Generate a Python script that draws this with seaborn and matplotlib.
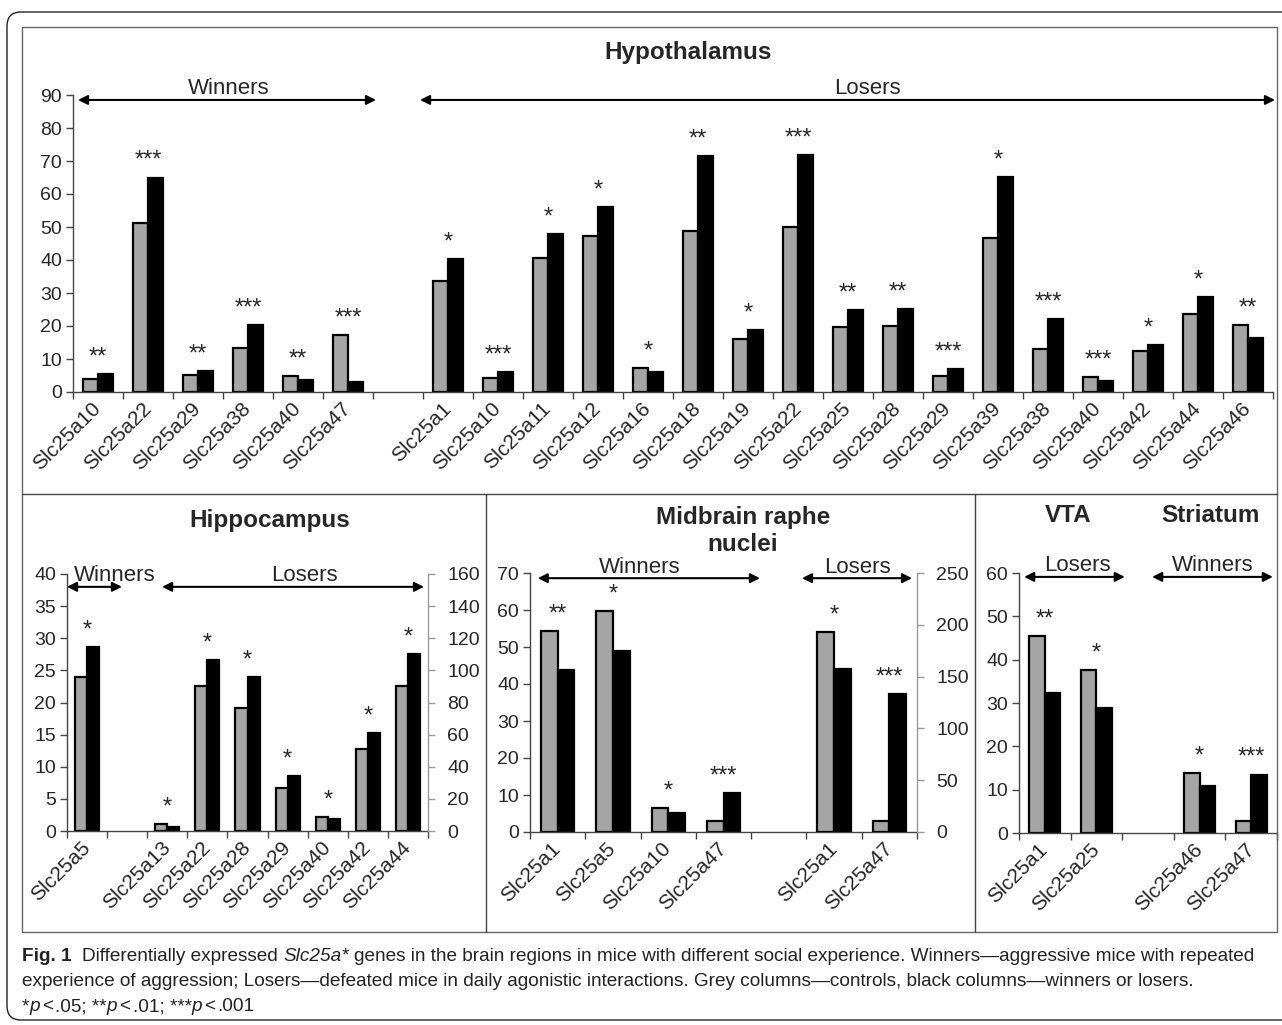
import numpy as np
import pandas as pd
import matplotlib
matplotlib.use("Agg")
import matplotlib.pyplot as plt
import seaborn as sns
from matplotlib import font_manager as fm
from matplotlib.patches import FancyBboxPatch, Rectangle
from matplotlib.lines import Line2D

# ---------------- data ----------------
# Hypothalamus
hyp_win_genes = ["Slc25a10", "Slc25a22", "Slc25a29", "Slc25a38", "Slc25a40", "Slc25a47"]
hyp_win_ctrl = [4.0, 51.3, 5.2, 13.4, 4.8, 17.3]
hyp_win_exp = [5.5, 65.0, 6.3, 20.4, 3.5, 3.0]
hyp_win_sig = ["**", "***", "**", "***", "**", "***"]

hyp_los_genes = ["Slc25a1", "Slc25a10", "Slc25a11", "Slc25a12", "Slc25a16", "Slc25a18",
                 "Slc25a19", "Slc25a22", "Slc25a25", "Slc25a28", "Slc25a29", "Slc25a39",
                 "Slc25a38", "Slc25a40", "Slc25a42", "Slc25a44", "Slc25a46"]
hyp_los_ctrl = [33.5, 4.1, 40.7, 47.2, 7.3, 48.7, 16.1, 50.0, 19.8, 20.1, 4.8, 46.7,
                13.0, 4.5, 12.3, 23.5, 20.4]
hyp_los_exp = [40.4, 6.0, 47.9, 56.0, 6.0, 71.4, 18.9, 71.7, 24.8, 25.2, 7.0, 65.1,
               22.1, 3.3, 14.3, 28.9, 16.5]
hyp_los_sig = ["*", "***", "*", "*", "*", "**", "*", "***", "**", "**", "***", "*",
               "***", "***", "*", "*", "**"]

# Hippocampus
hip_win_genes = ["Slc25a5"]
hip_win_ctrl = [23.9]
hip_win_exp = [28.7]
hip_win_sig = ["*"]
hip_los_genes = ["Slc25a13", "Slc25a22", "Slc25a28", "Slc25a29", "Slc25a40", "Slc25a42", "Slc25a44"]
hip_los_ctrl = [1.1, 22.5, 19.2, 6.7, 2.2, 12.8, 22.6]
hip_los_exp = [0.6, 26.6, 24.0, 8.5, 1.8, 15.3, 27.5]
hip_los_sig = ["*", "*", "*", "*", "*", "*", "*"]

# Midbrain raphe nuclei (losers on right axis)
mid_win_genes = ["Slc25a1", "Slc25a5", "Slc25a10", "Slc25a47"]
mid_win_ctrl = [54.2, 59.7, 6.5, 3.0]
mid_win_exp = [43.7, 48.9, 5.1, 10.5]
mid_win_sig = ["**", "*", "*", "***"]
mid_los_genes = ["Slc25a1", "Slc25a47"]
mid_los_ctrl = [192.7, 10.6]
mid_los_exp = [157.7, 133.5]
mid_los_sig = ["*", "***"]

# VTA (losers) and Striatum (winners)
vta_los_genes = ["Slc25a1", "Slc25a25"]
vta_los_ctrl = [45.4, 37.6]
vta_los_exp = [32.4, 28.8]
vta_los_sig = ["**", "*"]
str_win_genes = ["Slc25a46", "Slc25a47"]
str_win_ctrl = [13.9, 2.7]
str_win_exp = [10.8, 13.5]
str_win_sig = ["*", "***"]

# ---------------- style ----------------
sns.set_style("ticks")
plt.rcParams["font.family"] = ["Liberation Sans", "DejaVu Sans"]

W, H = 1282, 1025
PAL = {"Control": "#a5a5a5", "Experimental": "#000000"}
YT_FS = 14
XT_FS = 15
GRP_FS = 16
TITLE_FS = 17.5
STAR_FS = 17
AX_COL = "#444444"

fig = plt.figure(figsize=(W / 100, H / 100), dpi=100)


def add_axes_px(left, right, y0, ytop):
    return fig.add_axes([left / W, 1 - y0 / H, (right - left) / W, (y0 - ytop) / H])


def build(segments):
    order, labels = [], []
    for i, seg in enumerate(segments):
        if i > 0:
            order.append(f"gap{i}")
            labels.append("")
        seg["idx"] = []
        for g in seg["genes"]:
            seg["idx"].append(len(order))
            order.append(f"{seg['key']}|{g}")
            labels.append(g)
        n = len(seg["genes"])
        seg["df"] = pd.DataFrame({
            "slot": [f"{seg['key']}|{g}" for g in seg["genes"]] * 2,
            "group": ["Control"] * n + ["Experimental"] * n,
            "value": list(seg["ctrl"]) + list(seg["exp"]),
        })
    return order, labels


def draw_bars(ax, df, order):
    sns.barplot(data=df, x="slot", y="value", hue="group", order=order,
                hue_order=["Control", "Experimental"], palette=PAL, saturation=1,
                width=0.6, edgecolor="black", linewidth=1.6, errorbar=None,
                legend=False, ax=ax)


def stars(ax, seg):
    for i, c, e, s in zip(seg["idx"], seg["ctrl"], seg["exp"], seg["sig"]):
        ax.annotate(s, (i, max(c, e)), xytext=(0, 4), textcoords="offset points",
                    ha="center", va="bottom", fontsize=STAR_FS)


def bracket(ax, x0, x1, y, label, lx=None):
    ax.annotate("", xy=(x1, y), xytext=(x0, y),
                arrowprops=dict(arrowstyle="<|-|>", color="black", lw=1.5,
                                mutation_scale=14, shrinkA=0, shrinkB=0),
                annotation_clip=False)
    ax.annotate(label, ((x0 + x1) / 2 if lx is None else lx, y), xytext=(0, 4),
                textcoords="offset points", ha="center", va="baseline",
                fontsize=GRP_FS, annotation_clip=False)


def style(ax, labels, ymax, step):
    n = len(labels)
    ax.set_xlim(-0.5, n - 0.5)
    ax.set_ylim(0, ymax)
    ax.set_yticks(np.arange(0, ymax + 0.01, step))
    ax.set_xticks(np.arange(n))
    ax.set_xticklabels(labels, rotation=45, ha="right", va="center",
                       rotation_mode="anchor", fontsize=XT_FS)
    ax.set_xticks(np.arange(-0.5, n), minor=True)
    ax.tick_params(axis="x", which="major", length=0, pad=10)
    ax.tick_params(axis="x", which="minor", length=5, width=1, color=AX_COL, direction="out")
    ax.tick_params(axis="y", length=5, width=1, color=AX_COL, direction="out",
                   labelsize=YT_FS, pad=3)
    for s in ("top", "right"):
        ax.spines[s].set_visible(False)
    for s in ("left", "bottom"):
        ax.spines[s].set_color(AX_COL)
        ax.spines[s].set_linewidth(1)
    ax.set_xlabel("")
    ax.set_ylabel("")


def style_right(ax2, ymax, step):
    ax2.set_ylim(0, ymax)
    ax2.set_yticks(np.arange(0, ymax + 0.01, step))
    for s in ("top", "left", "bottom"):
        ax2.spines[s].set_visible(False)
    ax2.spines["right"].set_color("#999999")
    ax2.spines["right"].set_linewidth(1)
    ax2.tick_params(axis="y", length=5, width=1, color="#999999", direction="out",
                    labelsize=YT_FS, pad=9)
    ax2.set_ylabel("")


# ---------------- Hypothalamus ----------------
ax = add_axes_px(73, 1273, 392, 95)
hw = dict(key="W", genes=hyp_win_genes, ctrl=hyp_win_ctrl, exp=hyp_win_exp, sig=hyp_win_sig)
hl = dict(key="L", genes=hyp_los_genes, ctrl=hyp_los_ctrl, exp=hyp_los_exp, sig=hyp_los_sig)
order, labels = build([hw, hl])
draw_bars(ax, pd.concat([hw["df"], hl["df"]]), order)
style(ax, labels, 90, 10)
for seg in (hw, hl):
    stars(ax, seg)
bracket(ax, -0.4, 5.56, 88.5, "Winners", lx=2.62)
bracket(ax, 6.44, 23.54, 88.5, "Losers", lx=15.38)
fig.text(688 / W, 1 - 52 / H, "Hypothalamus", ha="center", va="center",
         fontsize=TITLE_FS, fontweight="bold")

# ---------------- Hippocampus ----------------
ax = add_axes_px(67, 428, 831, 574)
pw = dict(key="W", genes=hip_win_genes, ctrl=hip_win_ctrl, exp=hip_win_exp, sig=hip_win_sig)
pl = dict(key="L", genes=hip_los_genes, ctrl=hip_los_ctrl, exp=hip_los_exp, sig=hip_los_sig)
order, labels = build([pw, pl])
draw_bars(ax, pd.concat([pw["df"], pl["df"]]), order)
ax2 = ax.twinx()
style_right(ax2, 160, 20)
style(ax, labels, 40, 5)
for seg in (pw, pl):
    stars(ax, seg)
bracket(ax, -0.5, 0.87, 38.0, "Winners", lx=0.7)
bracket(ax, 1.87, 8.4, 38.0, "Losers", lx=5.43)
fig.text(270 / W, 1 - 520 / H, "Hippocampus", ha="center", va="center",
         fontsize=TITLE_FS, fontweight="bold")

# ---------------- Midbrain raphe nuclei ----------------
ax = add_axes_px(530, 917, 832, 573)
mw = dict(key="W", genes=mid_win_genes, ctrl=mid_win_ctrl, exp=mid_win_exp, sig=mid_win_sig)
ml = dict(key="L", genes=mid_los_genes, ctrl=mid_los_ctrl, exp=mid_los_exp, sig=mid_los_sig)
order, labels = build([mw, ml])
draw_bars(ax, mw["df"], order)
ax2 = ax.twinx()
draw_bars(ax2, ml["df"], order)
style_right(ax2, 250, 50)
style(ax, labels, 70, 10)
stars(ax, mw)
stars(ax2, ml)
bracket(ax, -0.36, 3.66, 68.6, "Winners", lx=1.49)
bracket(ax, 4.42, 6.41, 68.6, "Losers", lx=5.43)
fig.text(743 / W, 1 - 531 / H, "Midbrain raphe\nnuclei", ha="center", va="center",
         fontsize=TITLE_FS, fontweight="bold", linespacing=1.25)

# ---------------- VTA / Striatum ----------------
ax = add_axes_px(1019, 1277, 833, 573)
vl = dict(key="V", genes=vta_los_genes, ctrl=vta_los_ctrl, exp=vta_los_exp, sig=vta_los_sig)
sw = dict(key="S", genes=str_win_genes, ctrl=str_win_ctrl, exp=str_win_exp, sig=str_win_sig)
order, labels = build([vl, sw])
draw_bars(ax, pd.concat([vl["df"], sw["df"]]), order)
style(ax, labels, 60, 10)
for seg in (vl, sw):
    stars(ax, seg)
bracket(ax, -0.40, 1.55, 59.1, "Losers", lx=0.64)
bracket(ax, 2.08, 4.42, 59.1, "Winners", lx=3.26)
fig.text(1068 / W, 1 - 515 / H, "VTA", ha="center", va="center",
         fontsize=TITLE_FS, fontweight="bold")
fig.text(1210 / W, 1 - 515 / H, "Striatum", ha="center", va="center",
         fontsize=TITLE_FS, fontweight="bold")

# ---------------- frames ----------------
inch = fig.dpi_scale_trans
fig.add_artist(FancyBboxPatch((7 / 100, (H - 1020) / 100), (1320 - 7) / 100, (1020 - 12) / 100,
                              boxstyle="round,pad=0,rounding_size=0.14", transform=inch,
                              fill=False, edgecolor="#222222", lw=1.0))
fig.add_artist(Rectangle((22 / 100, (H - 932) / 100), (1277 - 22) / 100, (932 - 27) / 100,
                         transform=inch, fill=False, edgecolor="#666666", lw=1.0))
fig.add_artist(Line2D([22 / 100, 1277 / 100], [(H - 494) / 100] * 2, transform=inch,
                      color="#444444", lw=1.0))
for xv in (486, 975):
    fig.add_artist(Line2D([xv / 100, xv / 100], [(H - 494) / 100, (H - 932) / 100],
                          transform=inch, color="#444444", lw=1.0))

# ---------------- caption ----------------
avail = {f.name for f in fm.fontManager.ttflist}
cap_family = "Liberation Sans Narrow" if "Liberation Sans Narrow" in avail else "Liberation Sans"
renderer = fig.canvas.get_renderer()


def measure(s, size, style_name):
    kw = dict(fontsize=size, family=cap_family)
    if style_name == "bold":
        kw["fontweight"] = "bold"
    if style_name == "italic":
        kw["fontstyle"] = "italic"
    t = fig.text(0, 0, s, **kw)
    w = t.get_window_extent(renderer).width
    t.remove()
    return w, kw


line1 = [("Fig. 1", "bold", 2), ("Differentially expressed", "normal", 1), ("Slc25a*", "italic", 1),
         ("genes in the brain regions in mice with different social experience. "
          "Winners\u2014aggressive mice with repeated", "normal", 0)]
line2 = [("experience of aggression; Losers\u2014defeated mice in daily agonistic interactions. "
          "Grey columns\u2014controls, black columns\u2014winners or losers.", "normal", 0)]
line3 = [("*", "normal", 0), ("p", "italic", 0.4), ("<", "normal", 0.4), (".05; **", "normal", 0),
         ("p", "italic", 0.4), ("<", "normal", 0.4), (".01; ***", "normal", 0),
         ("p", "italic", 0.4), ("<", "normal", 0.4), (".001", "normal", 0)]


def line_width(pieces, size):
    sp = measure("a a", size, "normal")[0] - measure("aa", size, "normal")[0]
    total = 0
    for s, st, g in pieces:
        total += measure(s, size, st)[0] + g * sp
    return total


base = 10.0
cap_size = base * 1246 / line_width(line1, base)


def draw_line(pieces, y_px, size):
    sp = measure("a a", size, "normal")[0] - measure("aa", size, "normal")[0]
    x = 22
    for s, st, g in pieces:
        w, kw = measure(s, size, st)
        fig.text(x / W, 1 - y_px / H, s, ha="left", va="baseline", color="#222222", **kw)
        x += w + g * sp


draw_line(line1, 961, cap_size)
draw_line(line2, 986, cap_size)
draw_line(line3, 1011, cap_size)

fig.savefig("out.png", dpi=100)
